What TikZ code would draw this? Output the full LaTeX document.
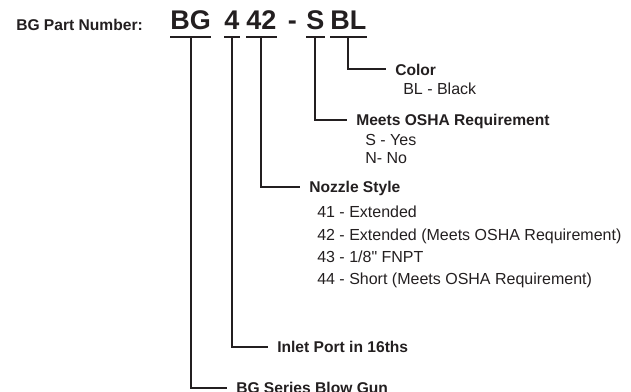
\documentclass[tikz,border=0pt]{standalone}
\usepackage{fontspec}
\setmainfont{Liberation Sans}[Ligatures=TeXOff]
\usepackage{tikz}
\usetikzlibrary{calc}
\definecolor{ink}{RGB}{35,31,32}

\begin{document}
\begin{tikzpicture}[x=0.75pt,y=-0.75pt,text=ink,
      part/.style={anchor=base west,inner xsep=0pt,inner ysep=5.6pt,text depth=0pt,font=\bfseries\fontsize{20.25}{22}\selectfont},
      uline/.style={draw=ink,line width=1.7pt},
      lead/.style={draw=ink,line width=1.5pt},
      head/.style={anchor=west,inner sep=0pt,text height=8.4pt,text depth=0pt,font=\bfseries\fontsize{11.7}{14}\selectfont},
      item/.style={anchor=west,inner sep=0pt,text height=8.6pt,text depth=0pt,font=\fontsize{12}{14}\selectfont}]
    \useasboundingbox (0,0) rectangle (631,392);
    % part number
    \node[head] (pn) at (16,25) {BG Part Number:};
    \node[part] (pBG)   at (170,29.5) {BG};
    \node[part] (p4)    at (224,29.5) {4};
    \node[part] (p42)   at (246,29.5) {42};
    \node[part] (pdash) at (287.5,29.5) {-};
    \node[part] (pS)    at (306,29.5) {S};
    \node[part] (pBL)   at (330,29.5) {BL};
    \foreach \p in {pBG,p4,p42,pS,pBL}
      \draw[uline] (\p.south west) -- (\p.south east);
    % color
    \node[head] (color) at (395,69.5) {Color};
    \node[item] (black) at (403,89) {BL - Black};
    % osha
    \node[head] (osha) at (356,120) {Meets OSHA Requirement};
    \node[item] (yes) at (365,140) {S - Yes};
    \node[item] (no)  at (365,157.5) {N- No};
    % nozzle
    \node[head] (nozzle) at (309,187) {Nozzle Style};
    \node[item] (n41) at (317,212) {41 - Extended};
    \node[item] (n42) at (317,234.5) {42 - Extended (Meets OSHA Requirement)};
    \node[item] (n43) at (317,257) {43 - 1/8" FNPT};
    \node[item] (n44) at (317,279) {44 - Short (Meets OSHA Requirement)};
    % inlet, series
    \node[head] (inlet)  at (277,347) {Inlet Port in 16ths};
    \node[head] (series) at (236,387.5) {BG Series Blow Gun};
    \draw[lead] (pBL.south) |- ([xshift=-7pt]color.west);
    \draw[lead] (pS.south)  |- ([xshift=-7pt]osha.west);
    \draw[lead] (p42.south) |- ([xshift=-7pt]nozzle.west);
    \draw[lead] (p4.south)  |- ([xshift=-7pt]inlet.west);
    \draw[lead] (pBG.south) |- ([xshift=-7pt]series.west);
  \end{tikzpicture}
\end{document}
